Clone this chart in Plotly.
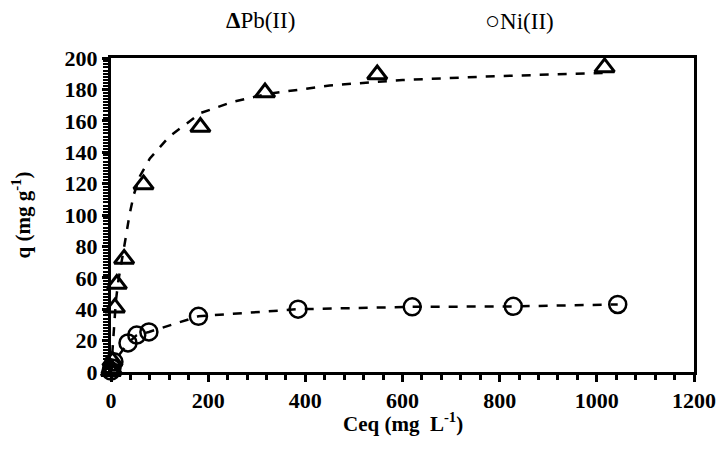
import plotly.graph_objects as go

# Pb(II) experimental points
pb_ceq = [0, 1, 3, 8, 12, 27, 67, 184, 317, 548, 1016]
pb_q = [0.5, 2, 7, 41, 56, 72, 119.5, 156, 178, 189.5, 194]

# Pb(II) fitted curve
pb_fit_ceq = [0, 3, 6, 10, 15, 22, 30, 38, 47, 60, 80, 120, 185, 250, 320, 450, 600, 800, 1016]
pb_fit_q = [0, 15, 30, 45, 58, 72, 85, 100, 113, 125, 136, 150, 165, 172, 177, 182.5, 186, 188.5, 190.5]

# Ni(II) experimental points
ni_ceq = [0, 2, 6, 35, 53, 78, 180, 385, 620, 828, 1043]
ni_q = [0.6, 2.5, 6.5, 18.5, 23.5, 25.5, 35.5, 40, 41.5, 41.8, 43]

FONT = "Liberation Serif"

fig = go.Figure()
fig.add_trace(go.Scatter(x=pb_fit_ceq, y=pb_fit_q, mode="lines",
                         line=dict(color="black", width=2.5, dash="dash"),
                         showlegend=False, cliponaxis=False))
fig.add_trace(go.Scatter(x=ni_ceq, y=ni_q, mode="lines",
                         line=dict(color="black", width=2.5, dash="dash"),
                         showlegend=False, cliponaxis=False))
fig.add_trace(go.Scatter(x=pb_ceq, y=pb_q, mode="markers", name="Pb(II)",
                         marker=dict(symbol="triangle-up-open", size=17, color="black",
                                     line=dict(color="black", width=3)),
                         showlegend=False, cliponaxis=False))
fig.add_trace(go.Scatter(x=ni_ceq, y=ni_q, mode="markers", name="Ni(II)",
                         marker=dict(symbol="circle-open", size=17, color="black",
                                     line=dict(color="black", width=2.5)),
                         showlegend=False, cliponaxis=False))

fig.update_layout(
    width=720, height=442,
    margin=dict(l=102, r=30, t=50, b=78),
    paper_bgcolor="white", plot_bgcolor="white",
    font=dict(family=FONT, color="black", size=20),
    xaxis=dict(range=[0, 1200], dtick=200, showgrid=False, zeroline=False,
               showline=True, linecolor="black", linewidth=3, mirror=True,
               ticks="outside", ticklen=7, tickwidth=3, tickcolor="black",
               tickfont=dict(family=FONT, size=22, weight="bold"),
               minor=dict(dtick=40, ticks="outside", ticklen=5, tickwidth=3, tickcolor="black")),
    yaxis=dict(range=[0, 200], dtick=20, showgrid=False, zeroline=False,
               showline=True, linecolor="black", linewidth=3, mirror=True,
               ticks="outside", ticklen=6, tickwidth=3, tickcolor="black",
               tickfont=dict(family=FONT, size=22, weight="bold"),
               minor=dict(dtick=2, ticks="outside", ticklen=5, tickwidth=2, tickcolor="black"),
               title=dict(text="<b>q (mg g<sup>-1</sup>)</b>", standoff=30,
                          font=dict(family=FONT, size=21))),
    annotations=[
        dict(text="<b>Ceq (mg\u00a0\u00a0L<sup>-1</sup>)</b>", xref="paper", yref="paper",
             x=0.5, y=-0.16, xanchor="center", yanchor="middle", showarrow=False,
             font=dict(family=FONT, size=21)),
        dict(text="<b>Δ</b>Pb(II)", xref="paper", yref="paper", x=0.194, y=1.121,
             xanchor="left", yanchor="middle", showarrow=False,
             font=dict(family=FONT, size=23)),
        dict(text="<span style='font-size:25px'>○</span>Ni(II)", xref="paper", yref="paper",
             x=0.638, y=1.121, xanchor="left", yanchor="middle", showarrow=False,
             font=dict(family=FONT, size=23)),
    ],
)

fig.write_html("out.html")
